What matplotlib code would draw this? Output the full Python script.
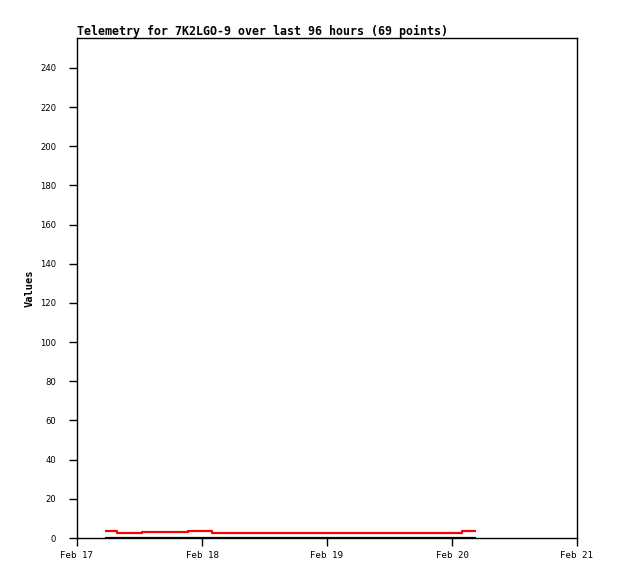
import matplotlib
matplotlib.use("Agg")
import matplotlib.pyplot as plt
import matplotlib.dates as mdates
from datetime import datetime

# change points of the two telemetry channels (step plots)
red_times = ["2024-02-17 05:25", "2024-02-17 07:40", "2024-02-17 12:30",
             "2024-02-17 21:20", "2024-02-18 01:50", "2024-02-20 02:00",
             "2024-02-20 04:40"]
red_values = [3.7, 2.7, 3.2, 3.7, 2.7, 3.7, 3.7]

black_times = ["2024-02-17 05:25", "2024-02-20 04:40"]
black_values = [0.2, 0.2]

title = "Telemetry for 7K2LGO-9 over last 96 hours (69 points)"
y_ticks = list(range(0, 241, 20))
x_ticks = ["2024-02-17", "2024-02-18", "2024-02-19", "2024-02-20", "2024-02-21"]


def parse(ts):
    fmt = "%Y-%m-%d %H:%M" if " " in ts else "%Y-%m-%d"
    return datetime.strptime(ts, fmt)


fig = plt.figure(figsize=(6.18, 5.79), dpi=100)
ax = fig.add_axes([77 / 618, 41 / 579, 500 / 618, 500 / 579])

ax.plot([parse(t) for t in black_times], black_values, color="black",
        linewidth=1.6, drawstyle="steps-post", solid_capstyle="butt")
ax.plot([parse(t) for t in red_times], red_values, color="#ff0000",
        linewidth=1.6, drawstyle="steps-post", solid_capstyle="butt")

ax.set_xlim(parse(x_ticks[0]), parse(x_ticks[-1]))
ax.set_ylim(0, 255.3)
ax.set_yticks(y_ticks)
ax.set_xticks([parse(t) for t in x_ticks])
ax.xaxis.set_major_formatter(mdates.DateFormatter("%b %d"))

for lab in ax.get_xticklabels():
    lab.set_fontfamily("DejaVu Sans Mono")
    lab.set_fontsize(6.6)
for lab in ax.get_yticklabels():
    lab.set_fontfamily("DejaVu Sans")
    lab.set_fontsize(6.1)

ax.tick_params(direction="out", length=5.5, width=1, colors="black")
ax.tick_params(axis="x", pad=4)
ax.tick_params(axis="y", pad=9.5)
for sp in ax.spines.values():
    sp.set_linewidth(1)
    sp.set_color("black")

ax.set_ylabel("Values", family="DejaVu Sans Mono", fontweight="bold",
              fontsize=7.5, labelpad=4)
ax.set_title(title, loc="left", family="DejaVu Sans Mono",
             fontweight="bold", fontsize=8.35, pad=2.5)

fig.savefig("out.png", dpi=100)
